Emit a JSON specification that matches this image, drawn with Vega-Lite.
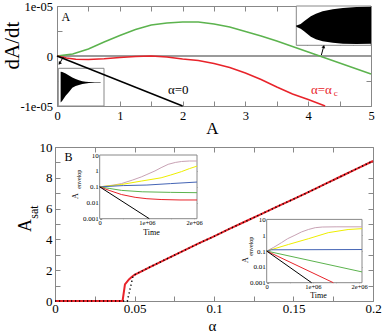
{
"$schema": "https://vega.github.io/schema/vega-lite/v6.json",
"padding": {"left": 1, "top": 0, "right": 0, "bottom": 0},
"background": "white",
"bounds": "flush",
"spacing": 41,
"center": true,
"config": {
 "view": {"stroke": null},
 "font": "Liberation Serif",
 "text": {"font": "Liberation Serif"},
 "axis": {"domainColor": "#888", "tickColor": "#888", "labelColor": "#000", "titleColor": "#000", "titleFontWeight": "normal", "labelFont": "Liberation Serif", "titleFont": "Liberation Serif", "grid": false, "labelFlush": false, "labelOverlap": false, "tickWidth": 1, "domainWidth": 1}
},
"datasets": {
 "one": [{"k": 1}],
 "topCurves": [
  {"A":0,"v":0,"s":"green"},{"A":0.25,"v":0.0000004,"s":"green"},{"A":0.5,"v":0.0000014,"s":"green"},{"A":0.75,"v":0.0000028,"s":"green"},{"A":1,"v":0.0000041,"s":"green"},{"A":1.25,"v":0.0000053,"s":"green"},{"A":1.5,"v":0.0000062,"s":"green"},{"A":1.75,"v":0.0000066,"s":"green"},{"A":2,"v":0.0000068,"s":"green"},{"A":2.25,"v":0.0000068,"s":"green"},{"A":2.5,"v":0.0000064,"s":"green"},{"A":2.75,"v":0.0000058,"s":"green"},{"A":3,"v":0.0000049,"s":"green"},{"A":3.25,"v":0.000004,"s":"green"},{"A":3.5,"v":0.000003,"s":"green"},{"A":3.75,"v":0.0000019,"s":"green"},{"A":4,"v":0.0000008,"s":"green"},{"A":4.25,"v":-0.0000003,"s":"green"},{"A":4.5,"v":-0.0000014,"s":"green"},{"A":4.75,"v":-0.0000025,"s":"green"},{"A":5,"v":-0.0000036,"s":"green"},
  {"A":0,"v":0,"s":"red"},{"A":0.15,"v":-0.0000004,"s":"red"},{"A":0.3,"v":-0.00000065,"s":"red"},{"A":0.5,"v":-0.0000007,"s":"red"},{"A":0.75,"v":-0.00000055,"s":"red"},{"A":1,"v":-0.0000003,"s":"red"},{"A":1.25,"v":-0.0000001,"s":"red"},{"A":1.5,"v":0,"s":"red"},{"A":1.75,"v":-0.0000002,"s":"red"},{"A":2,"v":-0.0000006,"s":"red"},{"A":2.25,"v":-0.0000009,"s":"red"},{"A":2.5,"v":-0.0000015,"s":"red"},{"A":2.75,"v":-0.0000023,"s":"red"},{"A":3,"v":-0.0000034,"s":"red"},{"A":3.25,"v":-0.0000047,"s":"red"},{"A":3.5,"v":-0.0000062,"s":"red"},{"A":3.75,"v":-0.0000076,"s":"red"},{"A":4,"v":-0.0000087,"s":"red"},{"A":4.27,"v":-0.00001,"s":"red"}
 ],
 "blackLine": [{"A":0,"v":0},{"A":2,"v":-0.00001}],
 "topText": [{"A":1.93,"v":-0.0000067,"t":"α=0"}],
 "topTextRed": [{"A":4.21,"v":-0.0000067,"t":"α=α"}],
 "topSub": [{"A":4.44,"v":-0.0000073,"t":"c"}],
 "panelA": [{"A":0.14,"v":0.0000079,"t":"A"}],
 "env1": [
  {"t":7,"lo":10,"hi":100},{"t":12,"lo":15,"hi":99},{"t":22,"lo":30,"hi":95},{"t":32,"lo":41,"hi":89},{"t":42,"lo":53,"hi":83},{"t":52,"lo":58,"hi":79},{"t":62,"lo":61,"hi":75},{"t":72,"lo":64,"hi":72},{"t":82,"lo":66,"hi":71},{"t":92,"lo":67,"hi":70},{"t":110,"lo":67.5,"hi":69.5},{"t":127,"lo":67.5,"hi":69.5}
 ],
 "env2": [
  {"t":0,"lo":56,"hi":60},{"t":3,"lo":54,"hi":60},{"t":13,"lo":50,"hi":64},{"t":23,"lo":42,"hi":72},{"t":33,"lo":34,"hi":80},{"t":43,"lo":26,"hi":87},{"t":58,"lo":18,"hi":95},{"t":78,"lo":12,"hi":102},{"t":108,"lo":8,"hi":108},{"t":138,"lo":5,"hi":112},{"t":178,"lo":4,"hi":115},{"t":221,"lo":5,"hi":116}
 ],
 "botRed": [
  {"a":0,"s":0},{"a":0.0425,"s":0},{"a":0.044,"s":1.08},{"a":0.0465,"s":1.4},{"a":0.0482,"s":1.56},{"a":0.05,"s":1.7},{"a":0.06,"s":2.22},{"a":0.07,"s":2.72},{"a":0.08,"s":3.22},{"a":0.09,"s":3.72},{"a":0.1,"s":4.2},{"a":0.11,"s":4.7},{"a":0.12,"s":5.18},{"a":0.13,"s":5.66},{"a":0.14,"s":6.14},{"a":0.15,"s":6.62},{"a":0.16,"s":7.1},{"a":0.17,"s":7.6},{"a":0.18,"s":8.1},{"a":0.19,"s":8.6},{"a":0.2,"s":9.09}
 ],
 "botBlack": [
  {"a":0,"s":0},{"a":0.0455,"s":0},{"a":0.049,"s":1.6},{"a":0.05,"s":1.7},{"a":0.06,"s":2.22},{"a":0.07,"s":2.72},{"a":0.08,"s":3.22},{"a":0.09,"s":3.72},{"a":0.1,"s":4.2},{"a":0.11,"s":4.7},{"a":0.12,"s":5.18},{"a":0.13,"s":5.66},{"a":0.14,"s":6.14},{"a":0.15,"s":6.62},{"a":0.16,"s":7.1},{"a":0.17,"s":7.6},{"a":0.18,"s":8.1},{"a":0.19,"s":8.6},{"a":0.2,"s":9.09}
 ],
 "panelB": [{"a":0.0085,"s":9.35,"t":"B"}],
 "in1": [
  {"t":0,"v":0.1,"s":"pink"},{"t":300000,"v":0.13,"s":"pink"},{"t":460000,"v":0.16,"s":"pink"},{"t":700000,"v":0.27,"s":"pink"},{"t":880000,"v":0.42,"s":"pink"},{"t":1000000,"v":0.6,"s":"pink"},{"t":1170000,"v":1.0,"s":"pink"},{"t":1300000,"v":1.6,"s":"pink"},{"t":1450000,"v":2.6,"s":"pink"},{"t":1600000,"v":3.4,"s":"pink"},{"t":1730000,"v":3.9,"s":"pink"},{"t":1900000,"v":4.2,"s":"pink"},{"t":2060000,"v":4.2,"s":"pink"},
  {"t":0,"v":0.1,"s":"yellow"},{"t":460000,"v":0.14,"s":"yellow"},{"t":880000,"v":0.23,"s":"yellow"},{"t":1300000,"v":0.37,"s":"yellow"},{"t":1500000,"v":0.55,"s":"yellow"},{"t":1730000,"v":0.9,"s":"yellow"},{"t":1900000,"v":1.4,"s":"yellow"},{"t":2060000,"v":2.0,"s":"yellow"},
  {"t":0,"v":0.1,"s":"blue"},{"t":500000,"v":0.12,"s":"blue"},{"t":1000000,"v":0.13,"s":"blue"},{"t":1500000,"v":0.16,"s":"blue"},{"t":2060000,"v":0.2,"s":"blue"},
  {"t":0,"v":0.1,"s":"green"},{"t":200000,"v":0.08,"s":"green"},{"t":460000,"v":0.06,"s":"green"},{"t":900000,"v":0.049,"s":"green"},{"t":1500000,"v":0.045,"s":"green"},{"t":2060000,"v":0.043,"s":"green"},
  {"t":0,"v":0.1,"s":"red"},{"t":200000,"v":0.06,"s":"red"},{"t":460000,"v":0.033,"s":"red"},{"t":750000,"v":0.022,"s":"red"},{"t":1000000,"v":0.018,"s":"red"},{"t":1300000,"v":0.016,"s":"red"},{"t":1700000,"v":0.015,"s":"red"},{"t":2060000,"v":0.015,"s":"red"},
  {"t":0,"v":0.1,"s":"black"},{"t":1050000,"v":0.001,"s":"black"}
 ],
 "in2": [
  {"t":0,"v":0.1,"s":"pink"},{"t":150000,"v":0.17,"s":"pink"},{"t":320000,"v":0.34,"s":"pink"},{"t":450000,"v":0.6,"s":"pink"},{"t":610000,"v":1.0,"s":"pink"},{"t":750000,"v":1.6,"s":"pink"},{"t":900000,"v":2.3,"s":"pink"},{"t":1050000,"v":3.0,"s":"pink"},{"t":1200000,"v":3.3,"s":"pink"},{"t":1500000,"v":3.4,"s":"pink"},{"t":2060000,"v":3.4,"s":"pink"},
  {"t":0,"v":0.1,"s":"yellow"},{"t":470000,"v":0.26,"s":"yellow"},{"t":900000,"v":0.6,"s":"yellow"},{"t":1330000,"v":1.45,"s":"yellow"},{"t":1760000,"v":2.3,"s":"yellow"},{"t":2060000,"v":2.6,"s":"yellow"},
  {"t":0,"v":0.1,"s":"blue"},{"t":100000,"v":0.12,"s":"blue"},{"t":2060000,"v":0.125,"s":"blue"},
  {"t":0,"v":0.1,"s":"green"},{"t":2060000,"v":0.0048,"s":"green"},
  {"t":0,"v":0.1,"s":"red"},{"t":1440000,"v":0.001,"s":"red"},
  {"t":0,"v":0.1,"s":"black"},{"t":970000,"v":0.001,"s":"black"}
 ]
},
"vconcat": [
 {
  "width": 314, "height": 100,
  "resolve": {"scale": {"x": "independent", "y": "independent"}},
  "layer": [
   {
    "layer": [
     {"data": {"name": "one"}, "mark": {"type": "rule", "color": "#9a9a9a", "strokeWidth": 2},
      "encoding": {"x": {"datum": 0, "type": "quantitative", "scale": {"domain": [0,5], "nice": false, "zero": false}, "axis": null}, "x2": {"datum": 5}, "y": {"datum": 0, "type": "quantitative", "scale": {"domain": [-0.00001,0.00001], "nice": false, "zero": false}, "axis": null}}},
     {"data": {"name": "topCurves"}, "mark": {"type": "line", "strokeWidth": 1.5},
      "encoding": {
       "x": {"field": "A", "type": "quantitative", "scale": {"domain": [0,5], "nice": false, "zero": false},
        "axis": {"orient": "bottom", "values": [0,0.5,1,1.5,2,2.5,3,3.5,4,4.5,5], "labelExpr": "datum.value % 1 == 0 ? toString(datum.value) : ''", "tickSize": -5, "labelPadding": 8, "labelFontSize": 12.5, "title": "A", "titleFontSize": 17, "titleX": 155, "titleY": 22, "titleBaseline": "middle", "titleAlign": "center"}},
       "y": {"field": "v", "type": "quantitative", "scale": {"domain": [-0.00001,0.00001], "nice": false, "zero": false},
        "axis": {"orient": "left", "values": [-0.00001,-0.000005,0,0.000005,0.00001], "labelExpr": "datum.value == 0 ? '0' : datum.value > 0.000006 ? '1e-05' : datum.value < -0.000006 ? '-1e-05' : ''", "tickSize": -5, "labelPadding": 9.5, "labelFontSize": 12.5, "title": "dA/dt", "titleFontSize": 21, "titleAngle": 270, "titleX": -45, "titleY": 39, "titleBaseline": "middle", "titleAlign": "center"}},
       "color": {"field": "s", "type": "nominal", "scale": {"domain": ["pink","yellow","blue","green","red","black"], "range": ["#c8a2b4","#eeee00","#4565b5","#5cb34e","#e8232a","#000000"]}, "legend": null}}},
     {"data": {"name": "topCurves"}, "mark": {"type": "point", "opacity": 0},
      "encoding": {
       "x": {"field": "A", "type": "quantitative", "scale": {"domain": [0,5], "nice": false, "zero": false},
        "axis": {"orient": "top", "values": [0,0.5,1,1.5,2,2.5,3,3.5,4,4.5,5], "labels": false, "tickSize": -5, "title": null}},
       "y": {"field": "v", "type": "quantitative", "scale": {"domain": [-0.00001,0.00001], "nice": false, "zero": false},
        "axis": {"orient": "right", "values": [-0.00001,-0.000005,0,0.000005,0.00001], "labels": false, "tickSize": -5, "title": null}}}},
     {"data": {"name": "topText"}, "mark": {"type": "text", "fontSize": 13, "color": "#000", "align": "center", "baseline": "middle"},
      "encoding": {"x": {"field": "A", "type": "quantitative", "scale": {"domain": [0,5], "nice": false, "zero": false}, "axis": null}, "y": {"field": "v", "type": "quantitative", "scale": {"domain": [-0.00001,0.00001], "nice": false, "zero": false}, "axis": null}, "text": {"field": "t"}}},
     {"data": {"name": "topTextRed"}, "mark": {"type": "text", "fontSize": 13, "color": "#e8232a", "align": "center", "baseline": "middle"},
      "encoding": {"x": {"field": "A", "type": "quantitative", "scale": {"domain": [0,5], "nice": false, "zero": false}, "axis": null}, "y": {"field": "v", "type": "quantitative", "scale": {"domain": [-0.00001,0.00001], "nice": false, "zero": false}, "axis": null}, "text": {"field": "t"}}},
     {"data": {"name": "topSub"}, "mark": {"type": "text", "fontSize": 9, "color": "#e8232a", "align": "center", "baseline": "middle"},
      "encoding": {"x": {"field": "A", "type": "quantitative", "scale": {"domain": [0,5], "nice": false, "zero": false}, "axis": null}, "y": {"field": "v", "type": "quantitative", "scale": {"domain": [-0.00001,0.00001], "nice": false, "zero": false}, "axis": null}, "text": {"field": "t"}}},
     {"data": {"name": "panelA"}, "mark": {"type": "text", "fontSize": 12, "color": "#000", "align": "center", "baseline": "middle"},
      "encoding": {"x": {"field": "A", "type": "quantitative", "scale": {"domain": [0,5], "nice": false, "zero": false}, "axis": null}, "y": {"field": "v", "type": "quantitative", "scale": {"domain": [-0.00001,0.00001], "nice": false, "zero": false}, "axis": null}, "text": {"field": "t"}}}
    ]
   },
   {
    "layer": [
     {"data": {"name": "one"}, "mark": {"type": "rect", "fill": "white", "stroke": "#888", "strokeWidth": 1},
      "encoding": {"x": {"datum": 0, "type": "quantitative", "scale": {"domain": [0,137], "range": [1.3,47], "nice": false, "zero": false}, "axis": null}, "x2": {"datum": 137}, "y": {"datum": 0, "type": "quantitative", "scale": {"domain": [0,110], "range": [100,62.3], "nice": false, "zero": false}, "axis": null}, "y2": {"datum": 110}}},
     {"data": {"name": "env1"}, "mark": {"type": "area", "color": "#000"},
      "encoding": {"x": {"field": "t", "type": "quantitative", "scale": {"domain": [0,137], "range": [1.3,47], "nice": false, "zero": false},
        "axis": {"orient": "top", "offset": -62.3, "values": [32,67,102], "labels": false, "domain": false, "tickSize": -3, "title": null}},
       "y": {"field": "lo", "type": "quantitative", "scale": {"domain": [0,110], "range": [100,62.3], "nice": false, "zero": false},
        "axis": {"orient": "right", "offset": -267, "values": [35,68,95], "labels": false, "domain": false, "tickSize": -3, "title": null}},
       "y2": {"field": "hi"}}}
    ]
   },
   {
    "layer": [
     {"data": {"name": "one"}, "mark": {"type": "rect", "fill": "white", "stroke": "#888", "strokeWidth": 1},
      "encoding": {"x": {"datum": 0, "type": "quantitative", "scale": {"domain": [0,221], "range": [239.3,314], "nice": false, "zero": false}, "axis": null}, "x2": {"datum": 221}, "y": {"datum": 0, "type": "quantitative", "scale": {"domain": [0,118], "range": [39.3,0], "nice": false, "zero": false}, "axis": null}, "y2": {"datum": 118}}},
     {"data": {"name": "env2"}, "mark": {"type": "area", "color": "#000"},
      "encoding": {"x": {"field": "t", "type": "quantitative", "scale": {"domain": [0,221], "range": [239.3,314], "nice": false, "zero": false},
        "axis": {"orient": "bottom", "offset": -60.7, "values": [33,73,128,168], "labels": false, "domain": false, "tickSize": -3, "title": null}},
       "y": {"field": "lo", "type": "quantitative", "scale": {"domain": [0,118], "range": [39.3,0], "nice": false, "zero": false},
        "axis": {"orient": "left", "offset": -239.3, "values": [30,85], "labels": false, "domain": false, "tickSize": -3, "title": null}},
       "y2": {"field": "hi"}}},
     {"data": {"name": "env2"}, "mark": {"type": "point", "opacity": 0},
      "encoding": {"x": {"field": "t", "type": "quantitative", "scale": {"domain": [0,221], "range": [239.3,314], "nice": false, "zero": false},
        "axis": {"orient": "top", "offset": 0, "values": [33,73,128,168], "labels": false, "domain": false, "tickSize": -3, "title": null}},
       "y": {"field": "lo", "type": "quantitative", "scale": {"domain": [0,118], "range": [39.3,0], "nice": false, "zero": false}, "axis": null}}}
    ]
   },
   {
    "layer": [
     {"data": {"name": "blackLine"}, "mark": {"type": "line", "color": "#000", "strokeWidth": 1.5},
      "encoding": {"x": {"field": "A", "type": "quantitative", "scale": {"domain": [0,5], "nice": false, "zero": false}, "axis": null}, "y": {"field": "v", "type": "quantitative", "scale": {"domain": [-0.00001,0.00001], "nice": false, "zero": false}, "axis": null}}},
     {"data": {"name": "one"}, "mark": {"type": "rule", "color": "#000", "strokeWidth": 1},
      "encoding": {"x": {"datum": 0.1, "type": "quantitative", "scale": {"domain": [0,5], "nice": false, "zero": false}, "axis": null}, "y": {"datum": -0.0000002, "type": "quantitative", "scale": {"domain": [-0.00001,0.00001], "nice": false, "zero": false}, "axis": null}, "x2": {"datum": 0.05}, "y2": {"datum": -0.0000013}}},
     {"data": {"name": "one"}, "mark": {"type": "point", "shape": "triangle", "angle": 215, "filled": true, "color": "#000", "size": 14, "opacity": 1},
      "encoding": {"x": {"datum": 0.045, "type": "quantitative", "scale": {"domain": [0,5], "nice": false, "zero": false}, "axis": null}, "y": {"datum": -0.0000014, "type": "quantitative", "scale": {"domain": [-0.00001,0.00001], "nice": false, "zero": false}, "axis": null}}},
     {"data": {"name": "one"}, "mark": {"type": "rule", "color": "#000", "strokeWidth": 1},
      "encoding": {"x": {"datum": 4.21, "type": "quantitative", "scale": {"domain": [0,5], "nice": false, "zero": false}, "axis": null}, "y": {"datum": 0.0000002, "type": "quantitative", "scale": {"domain": [-0.00001,0.00001], "nice": false, "zero": false}, "axis": null}, "x2": {"datum": 4.24}, "y2": {"datum": 0.0000016}}},
     {"data": {"name": "one"}, "mark": {"type": "point", "shape": "triangle", "angle": 15, "filled": true, "color": "#000", "size": 14, "opacity": 1},
      "encoding": {"x": {"datum": 4.245, "type": "quantitative", "scale": {"domain": [0,5], "nice": false, "zero": false}, "axis": null}, "y": {"datum": 0.0000018, "type": "quantitative", "scale": {"domain": [-0.00001,0.00001], "nice": false, "zero": false}, "axis": null}}}
    ]
   }
  ]
 },
 {
  "width": 318, "height": 154,
  "resolve": {"scale": {"x": "independent", "y": "independent"}},
  "layer": [
   {
    "layer": [
     {"data": {"name": "botRed"}, "mark": {"type": "line", "color": "#e8232a", "strokeWidth": 2},
      "encoding": {
       "x": {"field": "a", "type": "quantitative", "scale": {"domain": [0,0.2], "nice": false, "zero": false},
        "axis": {"orient": "bottom", "values": [0,0.025,0.05,0.075,0.1,0.125,0.15,0.175,0.2], "labelExpr": "indexof(['0','0.05','0.1','0.15','0.2'], toString(datum.value)) >= 0 ? toString(datum.value) : ''", "tickSize": -5, "labelPadding": 6, "labelFontSize": 13, "title": "α", "titleFontSize": 15, "titleX": 157, "titleY": 24, "titleBaseline": "middle", "titleAlign": "center"}},
       "y": {"field": "s", "type": "quantitative", "scale": {"domain": [0,10], "nice": false, "zero": false},
        "axis": {"orient": "left", "values": [0,1,2,3,4,5,6,7,8,9,10], "labelExpr": "datum.value % 2 == 0 ? toString(datum.value) : ''", "tickSize": -5, "labelPadding": 8, "labelFontSize": 13, "title": "A", "titleFontSize": 18, "titleAngle": 270, "titleX": -30, "titleY": 78, "titleBaseline": "middle", "titleAlign": "center"}}}},
     {"data": {"name": "botBlack"}, "mark": {"type": "line", "color": "#000", "strokeWidth": 1.5, "strokeDash": [1.2,2.8]},
      "encoding": {
       "x": {"field": "a", "type": "quantitative", "scale": {"domain": [0,0.2], "nice": false, "zero": false},
        "axis": {"orient": "top", "values": [0,0.025,0.05,0.075,0.1,0.125,0.15,0.175,0.2], "labels": false, "tickSize": -5, "title": null}},
       "y": {"field": "s", "type": "quantitative", "scale": {"domain": [0,10], "nice": false, "zero": false},
        "axis": {"orient": "right", "values": [0,1,2,3,4,5,6,7,8,9,10], "labels": false, "tickSize": -5, "title": "sat", "titleFontSize": 12, "titleAngle": 270, "titleX": -339.5, "titleY": 64.5, "titleBaseline": "middle", "titleAlign": "center"}}}},
     {"data": {"name": "panelB"}, "mark": {"type": "text", "fontSize": 12, "color": "#000", "align": "center", "baseline": "middle"},
      "encoding": {"x": {"field": "a", "type": "quantitative", "scale": {"domain": [0,0.2], "nice": false, "zero": false}, "axis": null}, "y": {"field": "s", "type": "quantitative", "scale": {"domain": [0,10], "nice": false, "zero": false}, "axis": null}, "text": {"field": "t"}}}
    ]
   },
   {
    "layer": [
     {"data": {"name": "one"}, "mark": {"type": "rect", "fill": "white", "stroke": "#888", "strokeWidth": 1},
      "encoding": {"x": {"datum": 0, "type": "quantitative", "scale": {"domain": [0,2060000], "range": [44.7,142], "nice": false, "zero": false}, "axis": null}, "x2": {"datum": 2060000}, "y": {"datum": 0.001, "type": "quantitative", "scale": {"type": "log", "domain": [0.001,10], "range": [71.7,8], "nice": false}, "axis": null}, "y2": {"datum": 10}}},
     {"data": {"name": "in1"}, "mark": {"type": "line", "strokeWidth": 1},
      "encoding": {
       "x": {"field": "t", "type": "quantitative", "scale": {"domain": [0,2060000], "range": [44.7,142], "nice": false, "zero": false},
        "axis": {"orient": "bottom", "offset": -82.3, "values": [0,500000,1000000,1500000,2000000], "labelExpr": "datum.value == 0 ? '0' : datum.value == 1000000 ? '1e+06' : datum.value == 2000000 ? '2e+06' : ''", "tickSize": -2.5, "labelPadding": 3, "labelFontSize": 6.5, "domain": false, "title": "Time", "titleFontSize": 8, "titleX": 96, "titleY": 13.5, "titleBaseline": "middle", "titleAlign": "center"}},
       "y": {"field": "v", "type": "quantitative", "scale": {"type": "log", "domain": [0.001,10], "range": [71.7,8], "nice": false},
        "axis": {"orient": "left", "offset": -44.7, "values": [0.001,0.002,0.003,0.004,0.005,0.006,0.007,0.008,0.009,0.01,0.02,0.03,0.04,0.05,0.06,0.07,0.08,0.09,0.1,0.2,0.3,0.4,0.5,0.6,0.7,0.8,0.9,1,2,3,4,5,6,7,8,9,10], "labelExpr": "datum.value == 10 ? '10' : datum.value == 1 ? '1' : datum.value == 0.1 ? '0.1' : datum.value == 0.01 ? '0.01' : datum.value == 0.001 ? '0.001' : ''", "tickSize": -2, "labelPadding": 3.5, "labelFontSize": 7, "domain": false, "title": "A", "titleFontSize": 8, "titleAngle": 270, "titleX": -24.7, "titleY": 48.7, "titleBaseline": "middle", "titleAlign": "center"}},
       "color": {"field": "s", "type": "nominal", "scale": {"domain": ["pink","yellow","blue","green","red","black"], "range": ["#c8a2b4","#eeee00","#4565b5","#5cb34e","#e8232a","#000000"]}, "legend": null}}},
     {"data": {"name": "in1"}, "mark": {"type": "point", "opacity": 0},
      "encoding": {
       "x": {"field": "t", "type": "quantitative", "scale": {"domain": [0,2060000], "range": [44.7,142], "nice": false, "zero": false},
        "axis": {"orient": "top", "offset": -8, "values": [500000,1000000,1500000], "labels": false, "domain": false, "tickSize": -2.5, "title": null}},
       "y": {"field": "v", "type": "quantitative", "scale": {"type": "log", "domain": [0.001,10], "range": [71.7,8], "nice": false},
        "axis": {"orient": "right", "offset": -176, "values": [0.01,0.1,1], "labels": false, "domain": false, "tickSize": -2.5, "title": "envelop", "titleFontSize": 6, "titleAngle": 270, "titleX": -118.5, "titleY": 31.7, "titleBaseline": "middle", "titleAlign": "center"}}}}
    ]
   },
   {
    "layer": [
     {"data": {"name": "one"}, "mark": {"type": "rect", "fill": "white", "stroke": "#888", "strokeWidth": 1},
      "encoding": {"x": {"datum": 0, "type": "quantitative", "scale": {"domain": [0,2060000], "range": [211.7,307], "nice": false, "zero": false}, "axis": null}, "x2": {"datum": 2060000}, "y": {"datum": 0.001, "type": "quantitative", "scale": {"type": "log", "domain": [0.001,10], "range": [135.7,72.4], "nice": false}, "axis": null}, "y2": {"datum": 10}}},
     {"data": {"name": "in2"}, "mark": {"type": "line", "strokeWidth": 1},
      "encoding": {
       "x": {"field": "t", "type": "quantitative", "scale": {"domain": [0,2060000], "range": [211.7,307], "nice": false, "zero": false},
        "axis": {"orient": "bottom", "offset": -18.3, "values": [0,500000,1000000,1500000,2000000], "labelExpr": "datum.value == 0 ? '0' : datum.value == 1000000 ? '1e+06' : datum.value == 2000000 ? '2e+06' : ''", "tickSize": -2.5, "labelPadding": 3, "labelFontSize": 6.5, "domain": false, "title": "Time", "titleFontSize": 8, "titleX": 263, "titleY": 13, "titleBaseline": "middle", "titleAlign": "center"}},
       "y": {"field": "v", "type": "quantitative", "scale": {"type": "log", "domain": [0.001,10], "range": [135.7,72.4], "nice": false},
        "axis": {"orient": "left", "offset": -211.7, "values": [0.001,0.002,0.003,0.004,0.005,0.006,0.007,0.008,0.009,0.01,0.02,0.03,0.04,0.05,0.06,0.07,0.08,0.09,0.1,0.2,0.3,0.4,0.5,0.6,0.7,0.8,0.9,1,2,3,4,5,6,7,8,9,10], "labelExpr": "datum.value == 10 ? '10' : datum.value == 1 ? '1' : datum.value == 0.1 ? '0.1' : datum.value == 0.01 ? '0.01' : datum.value == 0.001 ? '0.001' : ''", "tickSize": -2, "labelPadding": 3.5, "labelFontSize": 7, "domain": false, "title": "A", "titleFontSize": 8, "titleAngle": 270, "titleX": -21.7, "titleY": 112.7, "titleBaseline": "middle", "titleAlign": "center"}},
       "color": {"field": "s", "type": "nominal", "scale": {"domain": ["pink","yellow","blue","green","red","black"], "range": ["#c8a2b4","#eeee00","#4565b5","#5cb34e","#e8232a","#000000"]}, "legend": null}}},
     {"data": {"name": "in2"}, "mark": {"type": "point", "opacity": 0},
      "encoding": {
       "x": {"field": "t", "type": "quantitative", "scale": {"domain": [0,2060000], "range": [211.7,307], "nice": false, "zero": false},
        "axis": {"orient": "top", "offset": -72.4, "values": [500000,1000000,1500000], "labels": false, "domain": false, "tickSize": -2.5, "title": null}},
       "y": {"field": "v", "type": "quantitative", "scale": {"type": "log", "domain": [0.001,10], "range": [135.7,72.4], "nice": false},
        "axis": {"orient": "right", "offset": -11, "values": [0.01,0.1,1], "labels": false, "domain": false, "tickSize": -2.5, "title": "envelop", "titleFontSize": 6, "titleAngle": 270, "titleX": -112, "titleY": 98.7, "titleBaseline": "middle", "titleAlign": "center"}}}}
    ]
   }
  ]
 }
]
}
